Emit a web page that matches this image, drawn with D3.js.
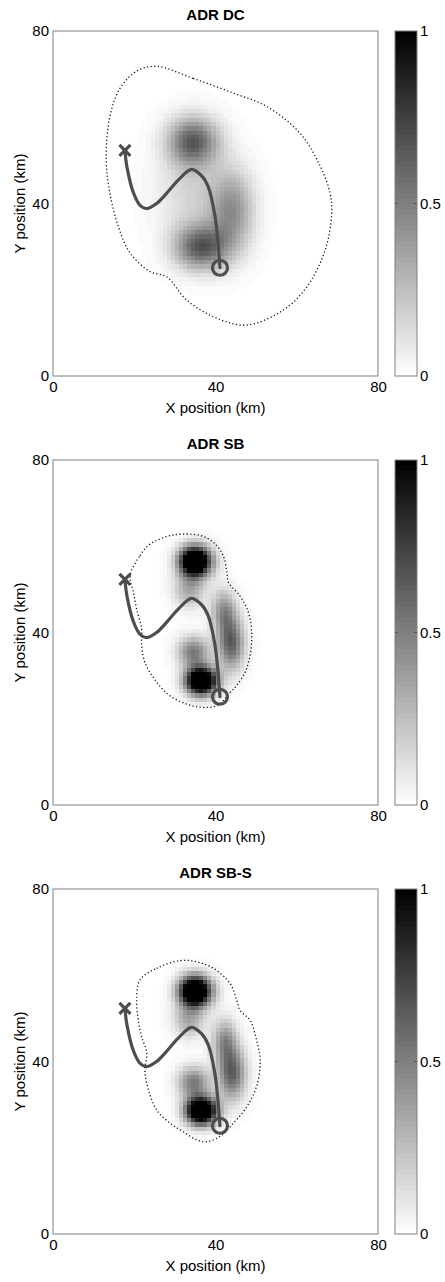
<!DOCTYPE html>
<html>
<head>
<meta charset="utf-8">
<script src="https://cdn.jsdelivr.net/npm/d3@7"></script>
<style>
    body { margin: 0; background: #fff; }
    svg { display: block; }
    text { font-family: "Liberation Sans", Arial, sans-serif; fill: #000; }
</style>
</head>
<body>
<div id="app"></div>
<script>
const titles = ["ADR DC", "ADR SB", "ADR SB-S"];
const axisTicks = [0, 40, 80];
const cbarTicks = [0, 0.5, 1];
const cbarLabels = ["0", "0.5", "1"];

// trajectory in km, same in all three panels
const trackX = [17.7, 18.2, 19.8, 21.5, 23.1, 25.5, 28.0, 31.0, 34.1, 36.5, 38.2, 39.9, 40.6, 41.1];
const trackY = [52.3, 48.5, 42.5, 39.5, 38.8, 40.0, 42.4, 45.6, 47.9, 46.5, 43.9, 36.9, 31.0, 25.1];
const startPt = [17.7, 52.3];
const endPt = [41.1, 25.1];

// dotted outer contour, km
const contourDC = [[25.5, 71.8], [34.5, 69.0], [44.4, 65.6], [52.6, 62.5], [60.8, 56.3], [65.8, 48.6],
    [68.2, 42.4], [68.6, 37.7], [67.0, 29.2], [62.5, 20.7], [56.7, 15.3], [47.7, 11.8], [40.3, 13.4],
    [32.9, 17.6], [28.0, 23.0], [23.9, 24.2], [19.0, 28.5], [16.1, 34.6], [14.0, 42.4], [13.1, 50.1],
    [14.0, 60.2], [16.5, 66.7], [20.6, 70.7]];
const contourSB = [[19.0, 53.2], [21.4, 57.8], [23.9, 60.5], [29.6, 62.6], [36.2, 62.5], [39.5, 60.9],
    [41.9, 57.8], [42.8, 54.0], [43.2, 51.6], [46.0, 48.5], [48.1, 44.7], [48.9, 40.0], [48.5, 34.6],
    [47.3, 30.8], [45.2, 27.7], [43.6, 26.1], [40.3, 23.0], [36.2, 22.7], [32.9, 23.4], [28.8, 25.3],
    [25.5, 28.5], [22.6, 33.1], [21.8, 37.7], [21.8, 40.8], [20.6, 45.4], [19.8, 49.3]];
const contourSBS = [[21.4, 58.9], [25.5, 61.6], [31.3, 63.4], [35.4, 63.1], [39.5, 61.6], [43.6, 58.1],
    [45.2, 54.3], [46.0, 51.9], [48.5, 49.6], [50.1, 45.0], [51.0, 40.3], [50.1, 34.2], [47.7, 29.5],
    [44.4, 25.7], [41.1, 22.6], [37.8, 21.4], [35.4, 21.8], [32.1, 23.7], [28.8, 25.7], [25.5, 28.8],
    [23.5, 33.4], [22.6, 38.0], [23.1, 41.9], [21.8, 45.8], [21.0, 49.6], [20.6, 54.3]];

// density blobs: [cx km, cy km, sx km, sy km, peak]
const blobsDC = [[34.5, 54.5, 4.3, 3.9, 0.62], [36.5, 30.0, 4.6, 3.6, 0.64],
    [44.0, 38.5, 3.8, 6.5, 0.42], [34.0, 43.0, 6.0, 7.5, 0.16]];
const blobsSB = [[35.0, 56.6, 2.7, 2.4, 1.6], [33.6, 50.0, 2.7, 2.8, 0.34], [42.0, 45.0, 2.1, 3.6, 0.42],
    [43.8, 37.5, 2.3, 4.2, 0.62], [34.6, 35.6, 2.7, 2.5, 0.52], [36.5, 28.9, 2.6, 2.2, 1.6]];
const blobsSBS = [[35.0, 56.4, 2.7, 2.4, 1.6], [33.5, 49.8, 2.7, 2.8, 0.34], [42.2, 44.8, 2.1, 3.6, 0.42],
    [44.0, 37.3, 2.4, 4.2, 0.62], [34.6, 35.3, 2.7, 2.5, 0.52], [36.5, 28.7, 2.6, 2.2, 1.6]];

const panels = [
    {title: titles[0], contour: contourDC, blobs: blobsDC},
    {title: titles[1], contour: contourSB, blobs: blobsSB},
    {title: titles[2], contour: contourSBS, blobs: blobsSBS}
];

const W = 445;
const H = 1282;
const plotL = 53;
const plotW = 325;
const plotH = 345;
const panelTops = [31, 460, 889];
const cbarL = 395;
const cbarW = 22;
const gridN = 80;
const trackColor = "#4d4d4d";

const gray = d3.scaleLinear().domain([0, 1]).range(["#ffffff", "#000000"]).clamp(true);

function density(blobs, x, y) {
    let v = 0;
    blobs.forEach(function (b) {
        const dx = (x - b[0]) / b[2];
        const dy = (y - b[1]) / b[3];
        v += b[4] * Math.exp(-0.5 * (dx * dx + dy * dy));
    });
    return Math.min(1, v);
}

const svg = d3.select("#app")
    .append("svg")
    .attr("width", W)
    .attr("height", H);

panels.forEach(function (p, k) {
    const top = panelTops[k];
    const x = d3.scaleLinear().domain([0, 80]).range([plotL, plotL + plotW]);
    const y = d3.scaleLinear().domain([0, 80]).range([top + plotH, top]);
    const g = svg.append("g");

    //TITLE
    g.append("text")
        .attr("x", plotL + plotW / 2)
        .attr("y", top - 11)
        .attr("text-anchor", "middle")
        .style("font-size", "15px")
        .style("font-weight", "bold")
        .text(p.title);

    //HEATMAP
    const cells = [];
    for (let i = 0; i < gridN; i++) {
        for (let j = 0; j < gridN; j++) {
            const v = Math.round(density(p.blobs, i + 0.5, j + 0.5) * 63) / 63;
            if (v > 0) cells.push({i: i, j: j, v: v});
        }
    }
    g.append("g")
        .attr("shape-rendering", "crispEdges")
        .selectAll("rect")
        .data(cells)
        .enter()
        .append("rect")
        .attr("x", function (c) { return x(c.i); })
        .attr("y", function (c) { return y(c.j + 1); })
        .attr("width", x(1) - x(0) + 0.5)
        .attr("height", y(0) - y(1) + 0.5)
        .style("fill", function (c) { return gray(c.v); });

    //BOX
    g.append("rect")
        .attr("x", plotL)
        .attr("y", top)
        .attr("width", plotW)
        .attr("height", plotH)
        .style("fill", "none")
        .style("stroke", "#808080")
        .style("stroke-width", 1);

    //CONTOUR
    g.append("path")
        .datum(p.contour)
        .attr("d", d3.line()
            .x(function (d) { return x(d[0]); })
            .y(function (d) { return y(d[1]); })
            .curve(d3.curveCatmullRomClosed.alpha(0.5)))
        .style("fill", "none")
        .style("stroke", "#111")
        .style("stroke-width", 1.3)
        .style("stroke-dasharray", "1.2,2.4");

    //TRACK
    g.append("path")
        .datum(d3.range(trackX.length))
        .attr("d", d3.line()
            .x(function (i) { return x(trackX[i]); })
            .y(function (i) { return y(trackY[i]); })
            .curve(d3.curveCatmullRom.alpha(0.5)))
        .style("fill", "none")
        .style("stroke", trackColor)
        .style("stroke-width", 3.2)
        .style("stroke-linecap", "round");

    const sx = x(startPt[0]);
    const sy = y(startPt[1]);
    const s = 5.5;
    g.append("path")
        .attr("d", "M" + (sx - s) + "," + (sy - s) + "L" + (sx + s) + "," + (sy + s) +
            "M" + (sx - s) + "," + (sy + s) + "L" + (sx + s) + "," + (sy - s))
        .style("stroke", trackColor)
        .style("stroke-width", 3.2);
    g.append("circle")
        .attr("cx", x(endPt[0]))
        .attr("cy", y(endPt[1]))
        .attr("r", 7.5)
        .style("fill", "none")
        .style("stroke", trackColor)
        .style("stroke-width", 3.2);

    //AXES
    const xAxis = g.append("g")
        .attr("transform", "translate(0," + (top + plotH) + ")")
        .call(d3.axisBottom(x).tickValues(axisTicks).tickSize(0).tickPadding(5));
    const yAxis = g.append("g")
        .attr("transform", "translate(" + plotL + ",0)")
        .call(d3.axisLeft(y).tickValues(axisTicks).tickSize(0).tickPadding(4));
    [xAxis, yAxis].forEach(function (a) {
        a.select(".domain").remove();
        a.selectAll("text")
            .style("font-size", "15px")
            .style("font-family", "'Liberation Sans', Arial, sans-serif")
            .attr("fill", "#000");
    });

    g.append("text")
        .attr("x", plotL + plotW / 2)
        .attr("y", top + plotH + 37)
        .attr("text-anchor", "middle")
        .style("font-size", "15px")
        .text("X position (km)");
    g.append("text")
        .attr("transform", "translate(25," + (top + plotH / 2) + ") rotate(-90)")
        .attr("text-anchor", "middle")
        .style("font-size", "15px")
        .text("Y position (km)");

    //COLORBAR
    const c = d3.scaleLinear().domain([0, 1]).range([top + plotH, top]);
    const levels = d3.range(64);
    g.append("g")
        .attr("shape-rendering", "crispEdges")
        .selectAll("rect")
        .data(levels)
        .enter()
        .append("rect")
        .attr("x", cbarL)
        .attr("y", function (l) { return c((l + 1) / 64); })
        .attr("width", cbarW)
        .attr("height", c(0) - c(1 / 64) + 0.6)
        .style("fill", function (l) { return gray((l + 0.5) / 64); });
    g.append("rect")
        .attr("x", cbarL)
        .attr("y", top)
        .attr("width", cbarW)
        .attr("height", plotH)
        .style("fill", "none")
        .style("stroke", "#808080");
    g.append("g")
        .selectAll("line")
        .data([cbarL, cbarL + cbarW])
        .enter()
        .append("line")
        .attr("x1", function (d, i) { return i === 0 ? d : d - 3; })
        .attr("x2", function (d, i) { return i === 0 ? d + 3 : d; })
        .attr("y1", c(0.5))
        .attr("y2", c(0.5))
        .style("stroke", "#555");
    g.append("g")
        .selectAll("text")
        .data(cbarTicks)
        .enter()
        .append("text")
        .attr("x", cbarL + cbarW + 3)
        .attr("y", function (d) { return c(d); })
        .attr("dy", "0.35em")
        .style("font-size", "15px")
        .text(function (d, i) { return cbarLabels[i]; });
});
</script>
</body>
</html>
